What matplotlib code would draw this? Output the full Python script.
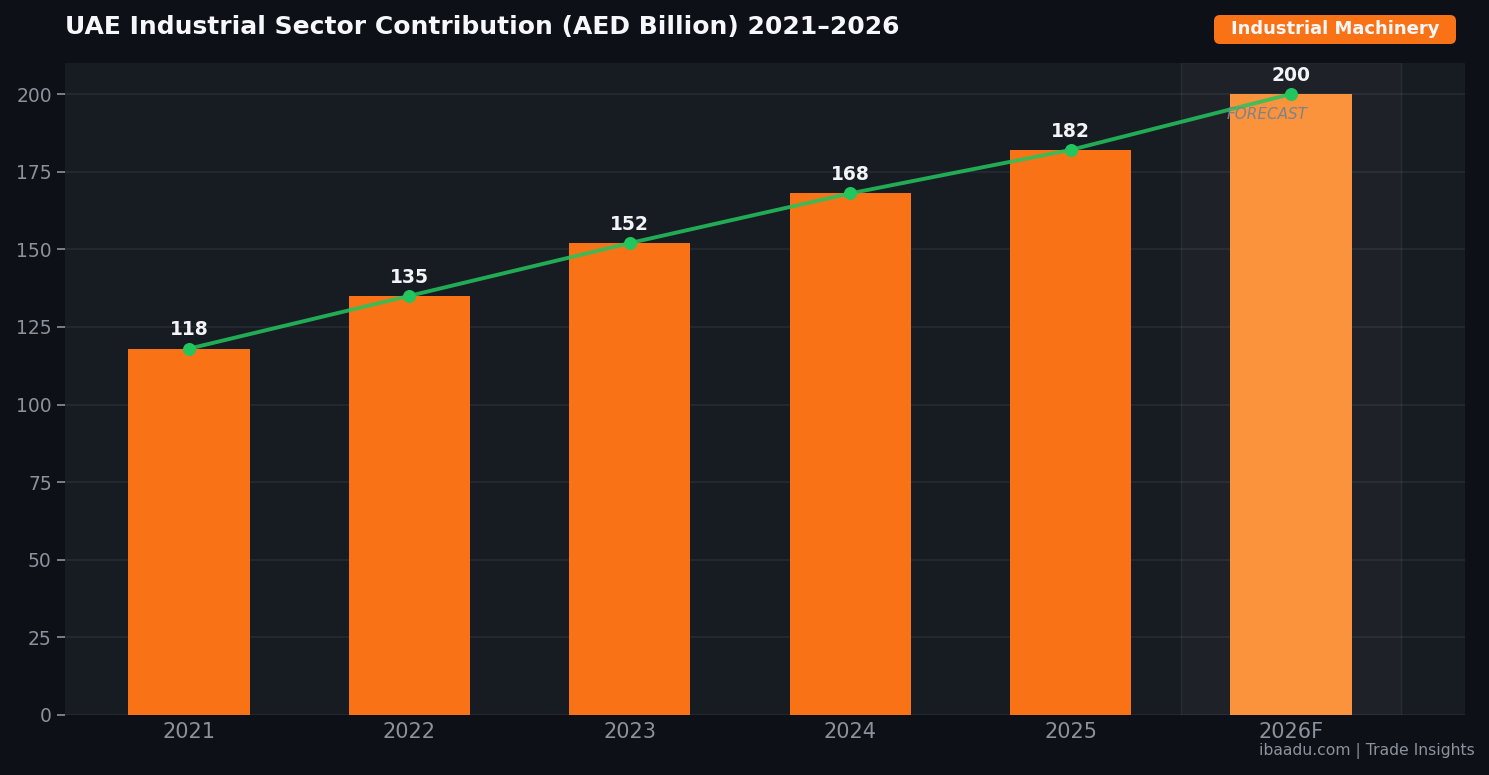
import numpy as np
import matplotlib
matplotlib.use("Agg")
import matplotlib.pyplot as plt
from matplotlib.patches import FancyBboxPatch

plt.rcParams["font.family"] = ["DejaVu Sans"]

# data
years = ["2021", "2022", "2023", "2024", "2025", "2026F"]
values = [118, 135, 152, 168, 182, 200]
forecast = [False, False, False, False, False, True]

bg_fig = "#0d1017"
bg_ax = "#171b22"
orange = "#f97316"
orange_light = "#fb923c"
green = "#22c55e"
txt_gray = "#8b929c"

W, H = 1489, 775
fig = plt.figure(figsize=(W / 100, H / 100), dpi=100, facecolor=bg_fig)
ax = fig.add_axes([65 / W, 60 / H, 1400 / W, 652 / H])
ax.set_facecolor(bg_ax)

x = np.arange(len(years))
colors = [orange_light if f else orange for f in forecast]
ax.bar(x, values, width=0.55, color=colors, zorder=2)
ax.plot(x, values, color=green, lw=2.8, alpha=0.85, zorder=3)
ax.scatter(x, values, s=70, color=green, zorder=4)

for xi, v in zip(x, values):
    ax.text(xi, v + 3.0, str(v), ha="center", va="bottom", color="#f2f4f7",
            fontsize=13.5, fontweight="bold", zorder=5)

# forecast zone
ax.axvspan(4.5, 5.5, color="white", alpha=0.03, zorder=1)
ax.axvline(4.5, color="white", alpha=0.04, lw=1, zorder=1)
ax.axvline(5.5, color="white", alpha=0.04, lw=1, zorder=1)
ax.text(4.89, 193.5, "FORECAST", ha="center", va="center", color="#7d838c",
        fontsize=11, style="italic", zorder=5)

ax.set_xlim(-0.563, 5.79)
ax.set_ylim(0, 210)
ax.set_yticks(np.arange(0, 201, 25))
ax.set_xticks(x)
ax.set_xticklabels(years)
ax.grid(axis="y", color="#262a32", lw=1.2, zorder=0)
ax.set_axisbelow(True)
for s in ax.spines.values():
    s.set_visible(False)
ax.tick_params(axis="y", colors=txt_gray, labelsize=13.5, length=6, width=1.2)
ax.tick_params(axis="x", colors=txt_gray, labelsize=15, length=0, pad=5)

fig.text(65 / W, 1 - 27 / H, "UAE Industrial Sector Contribution (AED Billion) 2021\u20132026",
         ha="left", va="center", color="#f5f7fa", fontsize=18, fontweight="bold")

# badge
badge = FancyBboxPatch((1214 / W, 1 - 44 / H), 242 / W, 29 / H,
                       boxstyle="round,pad=0,rounding_size=0.004",
                       transform=fig.transFigure, fc=orange, ec="none",
                       mutation_aspect=W / H)
fig.patches.append(badge)
fig.text(1335 / W, 1 - 29.5 / H, "Industrial Machinery", ha="center", va="center",
         color="#f5f7fa", fontsize=13, fontweight="bold")

fig.text(1475 / W, 1 - 751 / H, "ibaadu.com | Trade Insights", ha="right", va="center",
         color=txt_gray, fontsize=11.25)

fig.savefig("out.png", dpi=100, facecolor=bg_fig)
